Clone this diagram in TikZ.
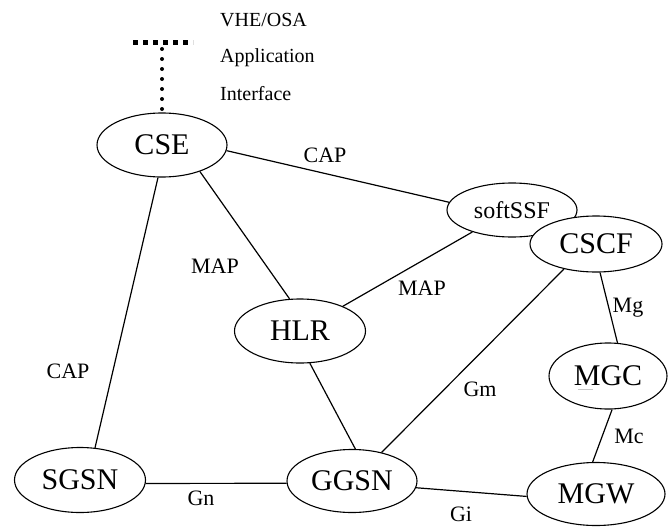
\documentclass[tikz,border=0pt]{standalone}
\usepackage{fontspec}
\setmainfont{Liberation Serif}
\usetikzlibrary{shapes.geometric}
\begin{document}
\begin{tikzpicture}[x=1pt,y=-1pt,
  ent/.style={ellipse,draw,fill=white,line width=1.1pt,inner sep=0pt,
              font=\fontsize{30}{30}\selectfont},
  lbl/.style={anchor=base,inner sep=0pt,font=\fontsize{22}{22}\selectfont},
  note/.style={anchor=base west,inner sep=0pt,font=\fontsize{20}{20}\selectfont},
  link/.style={line width=1.2pt}]
\useasboundingbox (0,0) rectangle (668,527);

% network elements
\node[ent,minimum width=130pt,minimum height=64pt] (cse)  at (162,145) {CSE};
\node[ent,minimum width=130pt,minimum height=54pt] (ssf)  at (512,210) {\fontsize{24}{24}\selectfont softSSF};
\node[ent,minimum width=132pt,minimum height=56pt] (cscf) at (596,244) {CSCF};
\node[ent,minimum width=131pt,minimum height=64pt] (hlr)  at (300,331) {HLR};
\node[ent,minimum width=118pt,minimum height=66pt] (mgc)  at (608,376) {MGC};
\node[ent,minimum width=131pt,minimum height=65pt] (sgsn) at (80,480)  {SGSN};
\node[ent,minimum width=130pt,minimum height=63pt] (ggsn) at (352,481) {GGSN};
\node[ent,minimum width=138pt,minimum height=63pt] (mgw)  at (596,494) {MGW};

% faint mark under MGC
\draw[gray!45,line width=0.6pt] (578,389) -- (593,389);

% application interface on top of CSE
\coordinate (apil) at (133,43);
\coordinate (apir) at (193,43);
\coordinate (apit) at (162,49);
\draw[line width=5pt,dash pattern=on 5pt off 5pt] (apil) -- (apir);
\draw[line width=4pt,line cap=round,dash pattern=on 0pt off 10pt] (apit) -- (cse.north);
\node[note] (vhe) at (220,27)  {VHE/OSA};
\node[note] (app) at (220,63)  {Application};
\node[note] (ifc) at (220,100) {Interface};

% interfaces
\draw[link] (cse.-5)    -- (ssf.173);
\draw[link] (cse.263)   -- (sgsn.65);
\draw[link] (cse.-35)   -- (hlr.108);
\draw[link] (ssf.209)   -- (hlr.30);
\draw[link] (cscf.218)  -- (ggsn.44);
\draw[link] (hlr.287)   -- (ggsn.84);
\draw[link] (cscf.278)  -- (mgc.74);
\draw[link] (mgc.277)   -- (mgw.96);
\draw[link] (sgsn.-3)   -- (ggsn.182);
\draw[link] (ggsn.-6)   -- (mgw.182);

% interface labels
\node[lbl] (lcap1) at (325,162) {CAP};
\node[lbl] (lcap2) at (68,378)  {CAP};
\node[lbl] (lmap1) at (215,273) {MAP};
\node[lbl] (lmap2) at (422,295) {MAP};
\node[lbl] (lgm)   at (480,396) {Gm};
\node[lbl] (lmg)   at (628,312) {Mg};
\node[lbl] (lmc)   at (629,443) {Mc};
\node[lbl] (lgn)   at (201,505) {Gn};
\node[lbl] (lgi)   at (461,521) {Gi};
\end{tikzpicture}
\end{document}
